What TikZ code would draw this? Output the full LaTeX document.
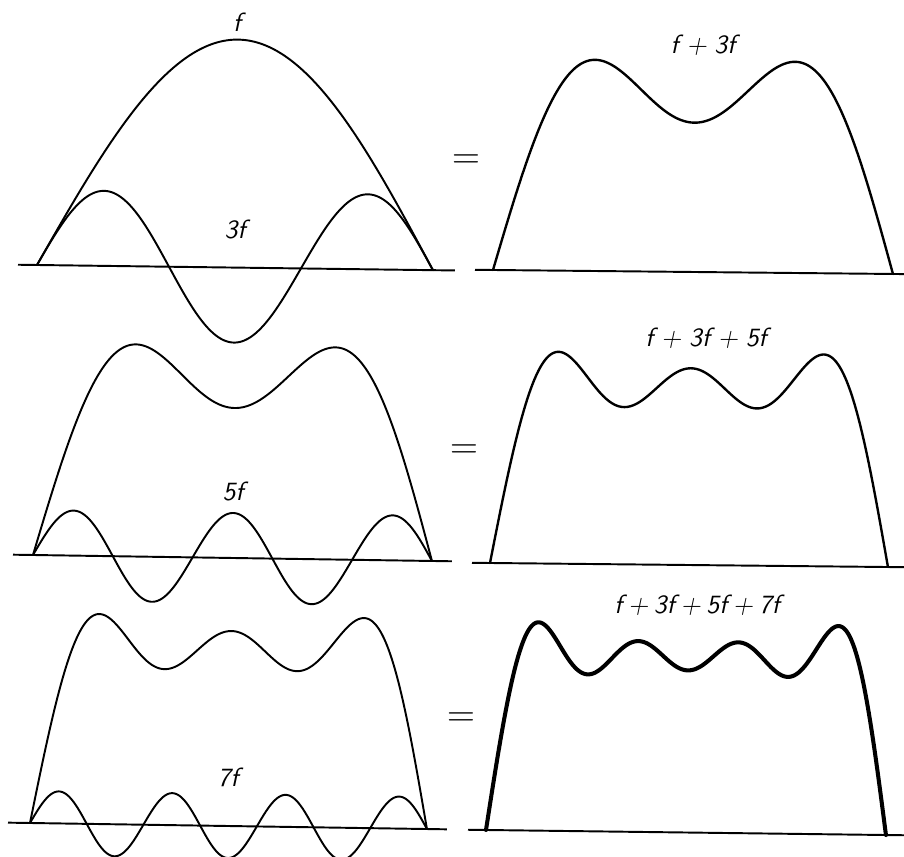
\documentclass[tikz,border=0pt]{standalone}
\usepackage{fontspec}
\begin{document}
\begin{tikzpicture}[x=0.02cm,y=-0.02cm,
  thinwave/.style={line width=1.1pt, line join=round, line cap=round},
  midwave/.style={line width=1.35pt, line join=round, line cap=round},
  boldwave/.style={line width=2.3pt, line join=round, line cap=round},
  axisline/.style={line width=1.1pt},
  lbl/.style={font=\fontsize{15}{17}\selectfont\sffamily\slshape, inner sep=0pt},
  eqsign/.style={font=\fontsize{22}{24}\selectfont, inner sep=0pt}]
\useasboundingbox (0,0) rectangle (904,857);

% ---------- Row 1 left: f and 3f ----------
\begin{scope}[shift={(37,265)}, rotate=-0.75]
  \draw[axisline] (-19,0) -- (418,0);
  \draw[thinwave] plot[variable=\t, domain=0:180, samples=181, smooth]
    ({(396/180)*\t}, {-228*sin(\t)});
  \draw[thinwave] plot[variable=\t, domain=0:180, samples=241, smooth]
    ({(396/180)*\t}, {-75*sin(3*\t)});
\end{scope}
\node[lbl] (lf) at (237,22) {f};
\node[lbl] (l3f) at (235,230) {3f};
\node[eqsign] (eq1) at (466,162) {=};

% ---------- Row 1 right: f+3f ----------
\begin{scope}[shift={(493,270)}, rotate=-0.57]
  \draw[axisline] (-18,0) -- (411,0);
  \draw[midwave] plot[variable=\t, domain=0:180, samples=241, smooth]
    ({(400/180)*\t}, {-224*(sin(\t)+sin(3*\t)/3)});
\end{scope}
\node[lbl] (lsum1) at (703,45) {f\hspace{.3em}+\hspace{.3em}3f};

% ---------- Row 2 left: f+3f and 5f ----------
\begin{scope}[shift={(33,555)}, rotate=-0.86]
  \draw[axisline] (-20,0) -- (419,0);
  \draw[thinwave] plot[variable=\t, domain=0:180, samples=241, smooth]
    ({(399/180)*\t}, {-225*(sin(\t)+sin(3*\t)/3)});
  \draw[thinwave] plot[variable=\t, domain=0:180, samples=301, smooth]
    ({(399/180)*\t}, {-45*sin(5*\t)});
\end{scope}
\node[lbl] (l5f) at (233,492) {5f};
\node[eqsign] (eq2) at (464,452) {=};

% ---------- Row 2 right: f+3f+5f ----------
\begin{scope}[shift={(490,563)}, rotate=-0.58]
  \draw[axisline] (-18,0) -- (414,0);
  \draw[midwave] plot[variable=\t, domain=0:180, samples=301, smooth]
    ({(398/180)*\t}, {-227*(sin(\t)+sin(3*\t)/3+sin(5*\t)/5)});
\end{scope}
\node[lbl] (lsum2) at (706,338) {f\hspace{.3em}+\hspace{.3em}3f\hspace{.3em}+\hspace{.3em}5f};

% ---------- Row 3 left: f+3f+5f and 7f ----------
\begin{scope}[shift={(30,823)}, rotate=-0.87]
  \draw[axisline] (-22,0) -- (417,0);
  \draw[thinwave] plot[variable=\t, domain=0:180, samples=301, smooth]
    ({(397/180)*\t}, {-225*(sin(\t)+sin(3*\t)/3+sin(5*\t)/5)});
  \draw[thinwave] plot[variable=\t, domain=0:180, samples=361, smooth]
    ({(397/180)*\t}, {-32*sin(7*\t)});
\end{scope}
\node[lbl] (l7f) at (228,777) {7f};
\node[eqsign] (eq3) at (461,720) {=};

% ---------- Row 3 right: f+3f+5f+7f ----------
\begin{scope}[shift={(486,830)}, rotate=-0.72]
  \draw[axisline] (-18,0) -- (418,0);
  \draw[boldwave] plot[variable=\t, domain=0:180, samples=361, smooth]
    ({(400/180)*\t}, {-224*(sin(\t)+sin(3*\t)/3+sin(5*\t)/5+sin(7*\t)/7)});
\end{scope}
\node[lbl] (lsum3) at (697,605) {f\hspace{.22em}+\hspace{.22em}3f\hspace{.22em}+\hspace{.22em}5f\hspace{.22em}+\hspace{.22em}7f};
\end{tikzpicture}
\end{document}
